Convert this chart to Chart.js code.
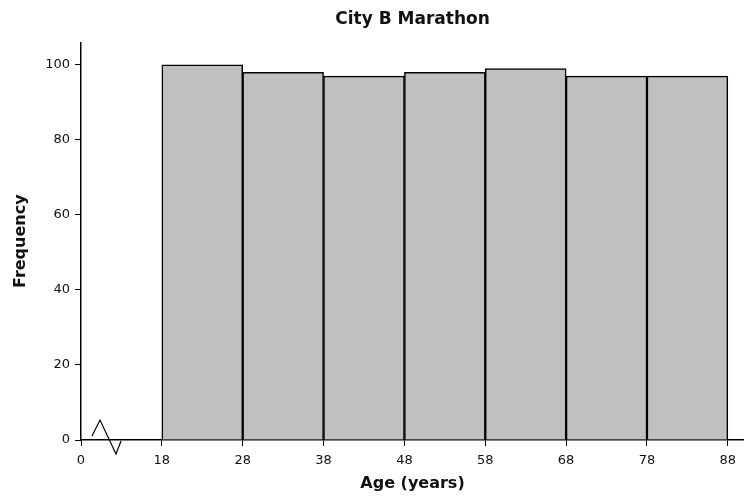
<!DOCTYPE html>
<html>
<head>
<meta charset="utf-8">
<script src="https://cdn.jsdelivr.net/npm/chart.js@4.4.0/dist/chart.umd.min.js"></script>
<style>
  html, body { margin: 0; padding: 0; background: #fff; }
  #wrap { width: 744px; height: 497px; }
</style>
</head>
<body>
<div id="wrap"><canvas id="c" width="744" height="497"></canvas></div>
<script>
// ---- data ----
const binStarts = [18, 28, 38, 48, 58, 68, 78];
const binWidth = 10;
const frequencies = [100, 98, 97, 98, 99, 97, 97];
const xTickLabels = ['0', '18', '28', '38', '48', '58', '68', '78', '88'];
// the axis is broken between 0 and 18; "0" is drawn at position 8
const xTickPositions = [8, 18, 28, 38, 48, 58, 68, 78, 88];
const yTicks = [0, 20, 40, 60, 80, 100];

const points = binStarts.map((s, i) => ({ x: s + binWidth / 2, y: frequencies[i] }));

const breakPlugin = {
  id: 'axisBreak',
  afterDraw(chart) {
    const ctx = chart.ctx;
    const x0 = chart.scales.x.getPixelForValue(xTickPositions[0]);
    const y0 = chart.scales.y.getPixelForValue(0);
    ctx.save();
    ctx.strokeStyle = '#000';
    ctx.lineWidth = 1.2;
    ctx.beginPath();
    ctx.moveTo(x0 + 11, y0 - 4);
    ctx.lineTo(x0 + 19, y0 - 20);
    ctx.lineTo(x0 + 35, y0 + 14);
    ctx.lineTo(x0 + 40, y0 + 1);
    ctx.stroke();
    ctx.restore();
  }
};

new Chart(document.getElementById('c'), {
  type: 'bar',
  data: {
    datasets: [{
      data: points,
      backgroundColor: '#c0c0c0',
      borderColor: '#000',
      borderWidth: 1.5,
      borderSkipped: 'bottom',
      barPercentage: 1,
      categoryPercentage: 1
    }]
  },
  options: {
    responsive: false,
    animation: false,
    layout: { padding: { left: 0, right: 0, top: 0, bottom: 0 } },
    plugins: {
      legend: { display: false },
      tooltip: { enabled: false },
      title: {
        display: true,
        text: 'City B Marathon',
        fullSize: false,
        color: '#111',
        font: { family: 'DejaVu Sans', size: 17, weight: 'bold' },
        padding: { top: 9, bottom: 13 }
      }
    },
    scales: {
      x: {
        type: 'linear',
        min: 8,
        max: 90,
        offset: false,
        afterBuildTicks(scale) {
          scale.ticks = xTickPositions.map(v => ({ value: v }));
        },
        afterFit(scale) { scale.height = 57; },
        grid: { display: true, offset: false, drawOnChartArea: false, drawTicks: true, tickLength: 6, color: '#000' },
        border: { display: true, color: '#000', width: 1.5 },
        ticks: {
          autoSkip: false,
          maxRotation: 0,
          padding: 7,
          color: '#111',
          font: { family: 'DejaVu Sans', size: 13 },
          callback(value) {
            const i = xTickPositions.indexOf(value);
            return i >= 0 ? xTickLabels[i] : '';
          }
        },
        title: {
          display: true,
          text: 'Age (years)',
          color: '#111',
          font: { family: 'DejaVu Sans', size: 16, weight: 'bold' },
          padding: { top: 0, bottom: 4 }
        }
      },
      y: {
        type: 'linear',
        min: 0,
        max: 106,
        afterBuildTicks(scale) {
          scale.ticks = yTicks.map(v => ({ value: v }));
        },
        afterFit(scale) { scale.width = 81; },
        grid: { display: true, drawOnChartArea: false, drawTicks: true, tickLength: 6, color: '#000' },
        border: { display: true, color: '#000', width: 1.5 },
        ticks: {
          padding: 5,
          color: '#111',
          font: { family: 'DejaVu Sans', size: 13 }
        },
        title: {
          display: true,
          text: 'Frequency',
          color: '#111',
          font: { family: 'DejaVu Sans', size: 16, weight: 'bold' },
          padding: { top: 11, bottom: 0 }
        }
      }
    }
  },
  plugins: [breakPlugin]
});
</script>
</body>
</html>
